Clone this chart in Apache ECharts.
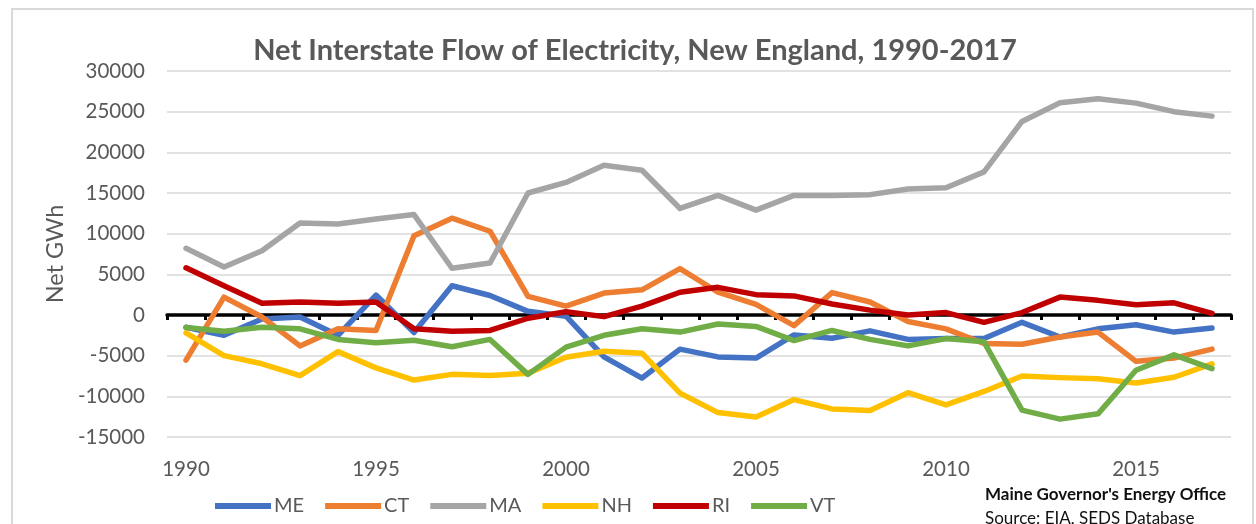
<!DOCTYPE html>
<html>
<head>
<meta charset="utf-8">
<title>Net Interstate Flow of Electricity, New England, 1990-2017</title>
<script src="https://cdn.jsdelivr.net/npm/echarts@6/dist/echarts.min.js"></script>
<style>
  html, body { margin: 0; padding: 0; background: #ffffff; }
  #chart { width: 1256px; height: 524px; }
</style>
</head>
<body>
<div id="chart"></div>
<script>
// Years on the category axis
const years = [];
for (let y = 1990; y <= 2017; y++) years.push(String(y));

// Net interstate flow by state, GWh
const ME = [-1500, -2500, -500, -250, -2500, 2450, -2150, 3600, 2400, 450,
            -150, -5150, -7750, -4200, -5150, -5300, -2450, -2850, -1950, -3000,
            -2900, -2900, -900, -2700, -1700, -1200, -2100, -1600];
const CT = [-5550, 2200, -250, -3800, -1700, -1900, 9750, 11900, 10300, 2300,
            1100, 2700, 3100, 5700, 2800, 1300, -1300, 2750, 1600, -800,
            -1700, -3500, -3600, -2700, -2100, -5700, -5300, -4200];
const MA = [8200, 5900, 7900, 11300, 11200, 11800, 12350, 5750, 6400, 15000,
            16300, 18400, 17800, 13100, 14700, 12900, 14700, 14700, 14800, 15500,
            15650, 17600, 23800, 26100, 26600, 26050, 25000, 24450];
const NH = [-2200, -5000, -6000, -7450, -4500, -6500, -8000, -7300, -7450, -7150,
            -5200, -4450, -4700, -9600, -12000, -12550, -10400, -11550, -11750, -9550,
            -11050, -9400, -7500, -7700, -7850, -8350, -7650, -6000];
const RI = [5800, 3600, 1450, 1600, 1450, 1600, -1700, -2000, -1900, -400,
            400, -200, 1100, 2800, 3400, 2500, 2350, 1350, 600, 0,
            300, -900, 300, 2200, 1800, 1250, 1500, 200];
const VT = [-1550, -2000, -1500, -1700, -3000, -3400, -3100, -3900, -3000, -7300,
            -3950, -2500, -1700, -2100, -1100, -1400, -3150, -1900, -3000, -3800,
            -2900, -3300, -11700, -12800, -12150, -6800, -4900, -6600];

const stateNames = ['ME', 'CT', 'MA', 'NH', 'RI', 'VT'];
const stateData = [ME, CT, MA, NH, RI, VT];
const stateColors = ['#4472C4', '#ED7D31', '#A5A5A5', '#FFC000', '#C00000', '#70AD47'];

const FONT = 'Lato, "Open Sans", sans-serif';
const GREY_TEXT = '#595959';

const chart = echarts.init(document.getElementById('chart'), null, { renderer: 'canvas' });

const series = stateNames.map((name, i) => ({
  name: name,
  type: 'line',
  xAxisIndex: 0,
  data: stateData[i],
  symbol: 'none',
  smooth: false,
  color: stateColors[i],
  lineStyle: { width: 5.5, color: stateColors[i], cap: 'round', join: 'round' },
  emphasis: { disabled: true }
}));

chart.setOption({
  backgroundColor: '#ffffff',
  animation: false,
  grid: { left: 167, right: 25, top: 71, bottom: 87, containLabel: false },
  xAxis: [
    {
      // bottom axis carrying the year labels
      type: 'category',
      position: 'bottom',
      data: years,
      boundaryGap: true,
      axisLine: { show: false, onZero: false },
      axisTick: { show: false },
      axisLabel: {
        interval: 4,
        margin: 22,
        color: GREY_TEXT,
        fontFamily: FONT,
        fontSize: 20.5
      },
      splitLine: { show: false }
    },
    {
      // black baseline drawn at zero, with a tick between each year
      type: 'category',
      position: 'bottom',
      data: years,
      boundaryGap: true,
      axisLine: { show: true, onZero: true, lineStyle: { color: '#000000', width: 3.5 } },
      axisTick: { show: true, interval: 0, length: 5, lineStyle: { color: '#000000', width: 3 } },
      axisLabel: { show: false },
      splitLine: { show: false }
    }
  ],
  yAxis: {
    type: 'value',
    min: -15000,
    max: 30000,
    interval: 5000,
    name: 'Net GWh',
    nameLocation: 'middle',
    nameGap: 100,
    nameRotate: 90,
    nameTextStyle: { color: GREY_TEXT, fontFamily: FONT, fontSize: 23.5 },
    axisLine: { show: false },
    axisTick: { show: false },
    axisLabel: {
      margin: 22,
      color: GREY_TEXT,
      fontFamily: FONT,
      fontSize: 20.5,
      formatter: (v) => String(v)
    },
    splitLine: { lineStyle: { color: '#d9d9d9', width: 1.5 } }
  },
  legend: {
    data: stateNames,
    left: 210,
    top: 491,
    itemWidth: 56,
    itemHeight: 6,
    itemGap: 21,
    icon: 'rect',
    textStyle: { color: GREY_TEXT, fontFamily: FONT, fontSize: 20, padding: [0, 0, 0, -2] }
  },
  graphic: [
    {
      type: 'rect',
      shape: { x: 12, y: 9, width: 1241, height: 540 },
      style: { fill: 'none', stroke: '#d9d9d9', lineWidth: 2 },
      silent: true
    },
    {
      type: 'text',
      x: 635,
      y: 51,
      style: {
        text: 'Net Interstate Flow of Electricity, New England, 1990-2017',
        font: 'bold 29px ' + FONT,
        fill: GREY_TEXT,
        align: 'center',
        verticalAlign: 'middle'
      },
      silent: true
    },
    {
      type: 'text',
      x: 985,
      y: 495,
      style: {
        text: "Maine Governor's Energy Office",
        font: 'bold 17px ' + FONT,
        fill: '#111111',
        align: 'left',
        verticalAlign: 'middle'
      },
      silent: true
    },
    {
      type: 'text',
      x: 985,
      y: 519,
      style: {
        text: 'Source: EIA, SEDS Database',
        font: '17px ' + FONT,
        fill: '#111111',
        align: 'left',
        verticalAlign: 'middle'
      },
      silent: true
    }
  ],
  series: series
});
</script>
</body>
</html>
